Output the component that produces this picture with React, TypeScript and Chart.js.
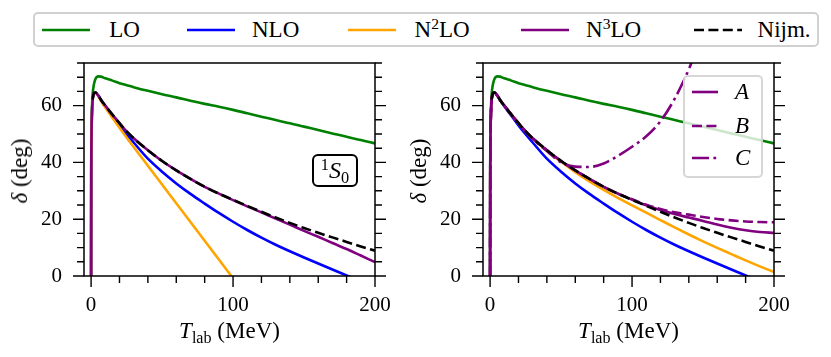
import React, { useEffect, useRef } from "react";
import { Chart, registerables } from "chart.js";

Chart.register(...registerables);

// ---------- data ----------
const T_LAB = [0, 0.1, 0.3, 0.6, 1, 2, 3, 5, 7, 10, 15, 20, 25, 30, 40, 50, 60, 70, 80, 90, 100, 110, 120, 130, 140, 150, 160, 170, 180, 190, 200];

const LO = [0, 38, 52, 59, 63.5, 67.5, 69.3, 70.3, 70.2, 69.6, 68.8, 67.9, 67.2, 66.5, 65.2, 64.0, 62.9, 61.7, 60.6, 59.6, 58.5, 57.3, 56.1, 54.9, 53.8, 52.6, 51.4, 50.2, 49.0, 47.9, 46.7];
const NLO = [0, 35, 50, 57, 61.5, 64.3, 64.6, 63.6, 62.0, 59.8, 56.4, 53.0, 49.9, 47.0, 41.3, 36.7, 32.6, 28.9, 25.5, 22.2, 19.1, 16.2, 13.5, 11.0, 8.7, 6.5, 4.4, 2.3, 0.2, -1.8, -3.7];
const N2LO_LEFT = [0, 35, 50, 57, 61.5, 64.3, 64.6, 63.4, 61.6, 59.3, 55.7, 52.2, 48.8, 45.4, 38.8, 32.2, 25.6, 19.0, 12.4, 5.8, -0.8, -7.4, null, null, null, null, null, null, null, null, null];
const N3LO_LEFT = [0, 35, 50, 57, 61.5, 64.3, 64.6, 63.6, 62.0, 60.0, 56.8, 53.8, 50.9, 48.5, 44.3, 40.5, 37.2, 34.2, 31.4, 29.0, 26.7, 24.5, 22.4, 20.2, 18.1, 15.9, 13.8, 11.6, 9.5, 7.2, 4.9];
const NIJM = [null, null, null, null, 62.1, 64.4, 64.6, 63.6, 62.0, 60.0, 56.8, 53.8, 50.9, 48.5, 44.3, 40.5, 37.2, 34.2, 31.4, 29.0, 26.8, 24.7, 22.6, 20.6, 18.7, 16.9, 15.2, 13.6, 12.0, 10.4, 8.9];
const N2LO_RIGHT = [0, 35, 50, 57, 61.5, 64.3, 64.6, 63.6, 62.0, 60.0, 56.8, 53.8, 50.9, 48.4, 44.1, 40.2, 36.6, 33.3, 30.3, 27.5, 24.9, 22.3, 19.7, 17.1, 14.6, 12.2, 9.9, 7.7, 5.5, 3.4, 1.4];
const N3LO_A = [0, 35, 50, 57, 61.5, 64.3, 64.6, 63.6, 62.0, 60.0, 56.8, 53.8, 50.9, 48.5, 44.3, 40.5, 37.2, 34.2, 31.4, 29.0, 26.9, 24.9, 23.2, 21.8, 20.6, 19.4, 18.1, 17.0, 16.1, 15.5, 15.2];
const N3LO_B = [0, 35, 50, 57, 61.5, 64.3, 64.6, 63.6, 62.0, 60.0, 56.8, 53.8, 50.9, 48.5, 44.3, 40.5, 37.2, 34.2, 31.4, 29.0, 27.0, 25.1, 23.6, 22.4, 21.6, 20.8, 20.1, 19.6, 19.2, 19.0, 18.9];
const N3LO_C = [0, 35, 50, 57, 61.5, 64.3, 64.6, 63.6, 62.0, 60.0, 56.8, 53.8, 50.9, 48.3, 44.0, 40.0, 38.5, 38.4, 39.6, 42.3, 45.5, 49.2, 54.5, 62.4, 72.8, 86, null, null, null, null, null];

const X_MAJOR = [0, 100, 200];
const X_MINOR = [20, 40, 60, 80, 120, 140, 160, 180];
const Y_MAJOR = [0, 20, 40, 60];
const Y_MINOR = [5, 10, 15, 25, 30, 35, 45, 50, 55, 65, 70, 75];
const X_RANGE = [-5, 200];
const Y_RANGE = [0, 75];

const LEGEND_LABELS = ["LO", "NLO", "N2LO", "N3LO", "Nijm."];
const INSET_LABELS = ["A", "B", "C"];

// ---------- style ----------
const FONT = "'Liberation Serif', 'DejaVu Serif', serif";
const GREEN = "#008000";
const BLUE = "#0000ff";
const ORANGE = "#ffa500";
const PURPLE = "#800080";
const BLACK = "#000000";
const LW = 2.6;
const DASH = [10, 4.4];
const DASHDOT = [17, 4.4, 2.8, 4.4];

type Series = { label: string; values: (number | null)[]; color: string; dash?: number[] };

// listed bottom-to-top (drawing order)
const LEFT_SERIES: Series[] = [
  { label: "LO", values: LO, color: GREEN },
  { label: "NLO", values: NLO, color: BLUE },
  { label: "N2LO", values: N2LO_LEFT, color: ORANGE },
  { label: "N3LO", values: N3LO_LEFT, color: PURPLE },
  { label: "Nijm.", values: NIJM, color: BLACK, dash: DASH },
];

const RIGHT_SERIES: Series[] = [
  { label: "LO", values: LO, color: GREEN },
  { label: "NLO", values: NLO, color: BLUE },
  { label: "N2LO", values: N2LO_RIGHT, color: ORANGE },
  { label: "A", values: N3LO_A, color: PURPLE },
  { label: "B", values: N3LO_B, color: PURPLE, dash: DASH },
  { label: "C", values: N3LO_C, color: PURPLE, dash: DASHDOT },
  { label: "Nijm.", values: NIJM, color: BLACK, dash: DASH },
];

const frameTicks = {
  id: "frameTicks",
  afterDraw(chart: any) {
    const { ctx, chartArea: a, scales } = chart;
    const x = scales.x;
    const y = scales.y;
    ctx.save();
    ctx.strokeStyle = "#000";
    ctx.lineWidth = 1.4;
    ctx.beginPath();
    const tick = (px: number, py: number, dx: number, dy: number) => {
      ctx.moveTo(px, py);
      ctx.lineTo(px + dx, py + dy);
    };
    X_MAJOR.forEach((v) => tick(x.getPixelForValue(v), a.bottom, 0, 11));
    X_MINOR.forEach((v) => tick(x.getPixelForValue(v), a.bottom, 0, 7));
    Y_MAJOR.forEach((v) => {
      const p = y.getPixelForValue(v);
      tick(a.left, p, -11, 0);
      tick(a.right, p, 11, 0);
    });
    Y_MINOR.forEach((v) => {
      const p = y.getPixelForValue(v);
      tick(a.left, p, -7, 0);
      tick(a.right, p, 7, 0);
    });
    ctx.stroke();
    ctx.lineWidth = 1.5;
    ctx.strokeRect(a.left, a.top, a.right - a.left, a.bottom - a.top);
    ctx.restore();
  },
};

function Panel(props: { left: number; width: number; yWidth: number; rightPad: number; series: Series[] }) {
  const ref = useRef<HTMLCanvasElement | null>(null);
  const { left, width, yWidth, rightPad, series } = props;
  useEffect(() => {
    if (!ref.current) return;
    // Chart.js paints the first dataset on top, so hand them over top-first.
    const datasets = series
      .map((s) => ({
        label: s.label,
        data: T_LAB.map((t, i) => ({ x: t, y: s.values[i] })),
        borderColor: s.color,
        backgroundColor: s.color,
        borderWidth: LW,
        borderDash: s.dash || [],
        pointRadius: 0,
        fill: false,
        cubicInterpolationMode: "monotone",
        clip: 0,
      }))
      .reverse();
    const tickFont = { family: FONT, size: 21 };
    const hiddenGrid = (len: number) => ({
      display: true,
      drawOnChartArea: false,
      drawTicks: true,
      tickLength: len,
      tickColor: "rgba(0,0,0,0)",
      color: "rgba(0,0,0,0)",
    });
    const chart = new Chart(ref.current, {
      type: "line",
      data: { datasets } as any,
      options: {
        animation: false,
        responsive: false,
        devicePixelRatio: 1,
        layout: { padding: { left: 0, right: rightPad, top: 13, bottom: 0 } },
        plugins: { legend: { display: false }, tooltip: { enabled: false } },
        scales: {
          x: {
            type: "linear",
            min: X_RANGE[0],
            max: X_RANGE[1],
            grid: hiddenGrid(17),
            border: { display: false },
            afterBuildTicks: (axis: any) => {
              axis.ticks = X_MAJOR.map((v) => ({ value: v }));
            },
            afterFit: (s: any) => {
              s.height = 81;
            },
            ticks: { font: tickFont, color: "#000", padding: 0, autoSkip: false, maxRotation: 0 },
          },
          y: {
            type: "linear",
            min: Y_RANGE[0],
            max: Y_RANGE[1],
            grid: hiddenGrid(22),
            border: { display: false },
            afterBuildTicks: (axis: any) => {
              axis.ticks = Y_MAJOR.map((v) => ({ value: v }));
            },
            afterFit: (s: any) => {
              s.width = yWidth;
            },
            ticks: { font: tickFont, color: "#000", padding: 0, autoSkip: false },
          },
        },
      } as any,
      plugins: [frameTicks],
    });
    return () => chart.destroy();
  }, []);
  return (
    <canvas
      ref={ref}
      width={width}
      height={307}
      style={{ position: "absolute", left, top: 50, width, height: 307 }}
    />
  );
}

function Sample(props: { color: string; dash?: number[]; len: number; left: number; cy: number }) {
  const { color, dash, len, left, cy } = props;
  return (
    <svg width={len} height={8} style={{ position: "absolute", left, top: cy - 4 }}>
      <line x1={0} y1={4} x2={len} y2={4} stroke={color} strokeWidth={LW} strokeDasharray={dash ? dash.join(" ") : undefined} />
    </svg>
  );
}

function LegendLabel(props: { text: string }) {
  const t = props.text;
  const m = /^N(\d)LO$/.exec(t);
  if (m) {
    return (
      <span>
        N<span style={{ fontSize: "0.68em", position: "relative", top: "-0.5em" }}>{m[1]}</span>LO
      </span>
    );
  }
  return <span>{t}</span>;
}

const textBase: React.CSSProperties = {
  position: "absolute",
  fontFamily: FONT,
  fontSize: 23,
  lineHeight: "24px",
  color: "#000",
  whiteSpace: "nowrap",
};

function XTitle(props: { cx: number }) {
  return (
    <div style={{ ...textBase, left: props.cx - 100, width: 200, textAlign: "center", top: 319 }}>
      <i>T</i>
      <span style={{ fontSize: "0.7em", position: "relative", top: "0.3em" }}>lab</span> (MeV)
    </div>
  );
}

function YTitle(props: { cx: number }) {
  return (
    <div
      style={{
        ...textBase,
        left: props.cx,
        top: 171,
        transform: "translate(-50%, -50%) rotate(-90deg)",
      }}
    >
      <i>δ</i> (deg)
    </div>
  );
}

export default function App() {
  const legendColors = [GREEN, BLUE, ORANGE, PURPLE, BLACK];
  const legendLineX = [41.6, 186.5, 348, 520.5, 694];
  const legendTextX = [109.2, 252, 414.5, 586, 757.6];
  const insetDash = [undefined, DASH, DASHDOT];
  const insetY = [92.3, 125.7, 157.7];
  return (
    <div style={{ width: 815, height: 341 }}>
      <Panel left={0} width={415} yWidth={84} rightPad={40} series={LEFT_SERIES} />
      <Panel left={415} width={400} yWidth={68} rightPad={41} series={RIGHT_SERIES} />

      {/* top legend */}
      <div
        style={{
          position: "absolute",
          left: 33,
          top: 12,
          width: 786,
          height: 35,
          boxSizing: "border-box",
          border: "2px solid #d0d0d0",
          borderRadius: 5,
          background: "#fff",
        }}
      />
      {LEGEND_LABELS.map((lab, i) => (
        <React.Fragment key={lab}>
          <Sample color={legendColors[i]} dash={lab === "Nijm." ? DASH : undefined} len={48} left={legendLineX[i]} cy={30} />
          <div style={{ ...textBase, left: legendTextX[i], top: 18 }}>
            <LegendLabel text={lab} />
          </div>
        </React.Fragment>
      ))}

      {/* 1S0 box */}
      <div
        style={{
          position: "absolute",
          left: 312,
          top: 154,
          width: 46,
          height: 33,
          boxSizing: "border-box",
          border: "2px solid #000",
          borderRadius: 6,
          background: "#fff",
        }}
      />
      <div style={{ ...textBase, left: 312, width: 46, textAlign: "center", top: 158, fontSize: 24 }}>
        <span style={{ fontSize: "0.68em", position: "relative", top: "-0.5em" }}>1</span>
        <i>S</i>
        <span style={{ fontSize: "0.68em", position: "relative", top: "0.3em" }}>0</span>
      </div>

      {/* inset legend (right panel) */}
      <div
        style={{
          position: "absolute",
          left: 683,
          top: 75,
          width: 80,
          height: 103,
          boxSizing: "border-box",
          border: "2px solid rgba(204,204,204,0.8)",
          borderRadius: 5,
          background: "rgba(255,255,255,0.8)",
        }}
      />
      {INSET_LABELS.map((lab, i) => (
        <React.Fragment key={lab}>
          <Sample color={PURPLE} dash={insetDash[i]} len={26} left={691.7} cy={insetY[i]} />
          <div style={{ ...textBase, left: 735, top: insetY[i] - 12 }}>
            <i>{lab}</i>
          </div>
        </React.Fragment>
      ))}

      <XTitle cx={229.5} />
      <XTitle cx={628.5} />
      <YTitle cx={20} />
      <YTitle cx={419} />
    </div>
  );
}
